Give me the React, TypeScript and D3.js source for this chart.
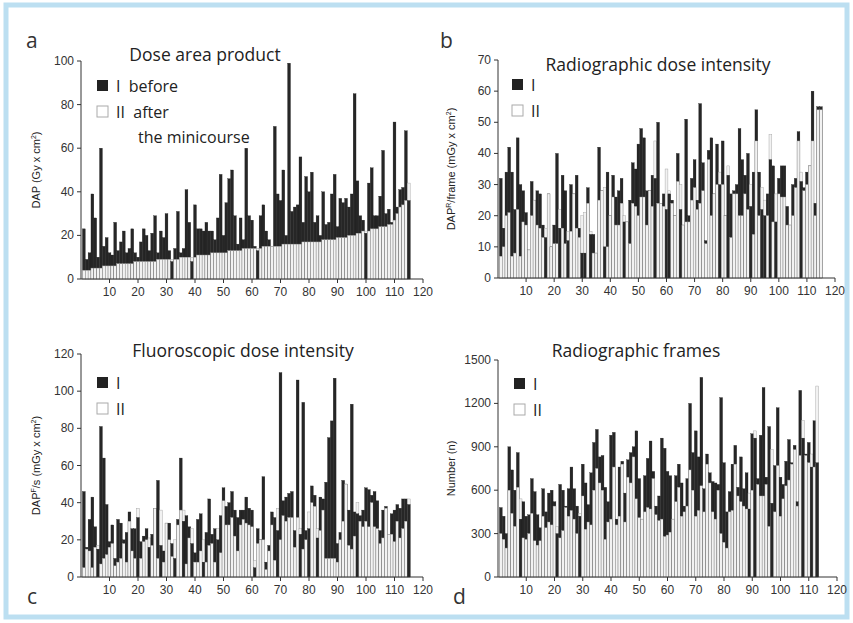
import React from "react";
import * as d3 from "d3";

const aBlack = [23,9,12,39,28,10,60,15,19,12,11,26,13,17,22,12,14,23,12,10,17,23,20,13,21,29,12,22,19,30,13,8,14,31,12,14,41,26,8,34,23,23,22,26,22,22,18,28,48,20,35,46,50,29,16,28,18,60,29,27,15,13,29,34,22,18,15,70,39,36,50,20,99,31,33,34,56,26,47,40,49,26,29,20,40,25,26,39,48,24,37,35,37,33,39,85,45,29,27,21,44,51,29,29,38,59,30,32,26,72,33,41,42,68,36,81];
const aWhite = [4,4,4,5,5,5,5,6,6,6,6,6,7,7,7,7,7,7,8,8,8,8,8,8,8,8,9,9,9,9,9,9,9,9,10,10,10,10,10,10,11,11,11,11,11,12,12,12,12,12,12,13,13,13,13,13,14,14,14,14,14,14,14,15,15,15,15,15,15,15,16,16,16,16,16,16,16,17,17,17,17,17,17,17,18,18,18,18,18,19,19,19,19,20,20,20,21,21,22,22,22,23,23,23,24,24,24,25,25,27,30,33,34,36,44];
const bBlack = [32,16,34,42,34,22,45,30,28,21,9,31,25,28,27,17,13,27,10,17,40,16,33,28,12,30,27,33,16,8,8,29,14,14,8,42,28,10,34,20,33,26,28,32,18,18,25,37,35,43,48,45,28,28,33,32,50,24,27,22,27,25,20,40,22,17,51,20,32,38,25,56,37,12,41,45,27,43,30,44,20,33,27,28,30,48,38,33,40,23,34,54,34,22,20,27,38,36,18,32,36,36,23,17,30,32,47,31,29,34,36,60,24,55,55];
const bWhite = [7,10,20,21,7,8,22,7,18,17,9,20,25,17,16,13,16,27,10,11,11,22,16,11,15,15,27,16,13,20,21,24,15,8,8,25,28,29,10,20,26,17,17,24,20,18,11,24,23,20,26,26,17,28,23,44,24,24,23,35,28,24,20,31,30,17,18,18,25,29,22,24,28,11,38,20,27,30,34,30,20,36,13,27,27,20,20,27,22,30,14,44,20,29,25,20,46,18,27,27,26,26,17,17,20,29,44,34,28,30,36,44,20,54,54];
const cBlack = [46,16,31,43,27,15,81,64,39,19,28,10,31,29,20,24,35,26,26,32,19,22,26,16,23,37,52,17,14,29,29,18,10,31,64,30,33,27,18,13,31,34,8,24,42,23,26,20,33,48,38,40,46,36,32,36,36,43,37,36,5,26,20,54,8,17,35,32,25,110,41,43,45,46,25,106,23,94,25,26,49,44,21,43,42,51,75,84,107,18,24,52,50,36,93,35,34,33,36,48,47,44,46,41,25,36,38,23,34,36,39,37,42,42,39];
const cWhite = [5,15,14,5,16,17,7,10,12,16,18,6,8,10,18,8,30,14,10,37,10,19,20,21,17,37,10,36,8,29,20,11,20,28,36,36,7,21,26,8,8,14,20,8,17,18,8,26,13,41,28,28,32,22,14,28,31,29,28,27,9,18,20,20,4,14,28,9,37,20,33,30,32,32,16,32,26,15,20,35,40,38,26,25,36,10,10,10,10,8,20,30,50,17,15,22,40,30,27,30,27,40,27,26,18,21,37,23,23,19,30,21,26,30,42];
const dBlack = [480,420,300,900,740,600,860,400,520,420,430,680,590,430,340,610,450,580,600,520,300,640,600,490,610,760,610,490,420,780,650,500,720,930,1020,830,840,620,520,980,1000,400,760,800,580,810,860,900,1010,680,400,700,820,940,730,490,560,960,890,730,700,400,700,780,650,490,680,1200,860,1010,830,1380,610,850,720,660,650,640,1240,790,450,590,780,910,620,830,610,720,470,990,960,680,980,1310,690,1040,510,770,1170,690,640,800,950,790,910,520,1290,960,850,930,760,1080,790];
const dWhite = [300,260,200,600,440,350,620,540,270,260,300,440,250,220,250,420,340,380,360,490,350,270,320,480,420,460,400,300,440,560,330,380,360,600,750,650,600,260,380,400,760,360,420,780,380,690,650,830,540,410,400,450,480,470,680,430,390,400,280,290,310,400,520,620,420,450,490,740,600,420,460,630,450,780,650,450,400,600,300,240,200,450,460,780,560,520,490,470,580,600,1010,640,560,560,640,350,880,450,770,420,540,630,670,780,880,490,840,1080,840,790,850,760,1320,570];

const xTicks = [10,20,30,40,50,60,70,80,90,100,110,120];
const font = "Liberation Sans, Arial, sans-serif";
const hfont = "Open Sans, sans-serif";

type P = { x0:number; x1:number; y0:number; y1:number; max:number; step:number; black:number[]; white:number[];
  title:string; tx:number; ty:number; ylab:React.ReactNode; lx:number; legend:string[]; lgx:number; lgy:number; extra?:string };

function Panel(p: P) {
  const x = d3.scaleLinear().domain([0,120]).range([p.x0,p.x1]);
  const y = d3.scaleLinear().domain([0,p.max]).range([p.y0,p.y1]);
  const w = x(1)-x(0);
  const yt = d3.range(0,p.max+1e-9,p.step);
  const n = Math.min(p.black.length,p.white.length,115);
  const bars:React.ReactNode[] = [];
  for (let i=0;i<n;i++){
    const b=p.black[i], wv=p.white[i];
    const bx = x(i+1)-w/2;
    const blk = <rect key={"b"+i} x={bx} width={w} y={y(b)} height={y(0)-y(b)} fill="#262626" stroke="#1a1a1a" strokeWidth={0.3}/>;
    const wht = <rect key={"w"+i} x={bx} width={w} y={y(wv)} height={y(0)-y(wv)} fill="#f2f2f2" stroke="#9a9a9a" strokeWidth={0.4}/>;
    if (b>=wv) bars.push(blk,wht); else bars.push(wht,blk);
  }
  return <g fontFamily={font}>
    {bars}
    <line x1={p.x0} x2={p.x1} y1={p.y0} y2={p.y0} stroke="#333" strokeWidth={1}/>
    <line x1={p.x0} x2={p.x0} y1={p.y0} y2={p.y1} stroke="#333" strokeWidth={1}/>
    {xTicks.map(t=><g key={t}><line x1={x(t)} x2={x(t)} y1={p.y0} y2={p.y0+4} stroke="#333"/>
      <text x={x(t)} y={p.y0+17} fontSize={12} textAnchor="middle" fill="#333">{t}</text></g>)}
    {yt.map(t=><g key={t}><line x1={p.x0-4} x2={p.x0} y1={y(t)} y2={y(t)} stroke="#333"/>
      <text x={p.x0-7} y={y(t)+4} fontSize={12} textAnchor="end" fill="#333">{t}</text></g>)}
    <text x={p.tx} y={p.ty} fontSize={17.5} fontFamily={hfont} textAnchor="middle" fill="#222">{p.title}</text>
    <text transform={`translate(${p.lx},${(p.y0+p.y1)/2}) rotate(-90)`} fontSize={11} textAnchor="middle" fill="#222">{p.ylab}</text>
    <rect x={p.lgx} y={p.lgy} width={11} height={11} fill="#222"/>
    <rect x={p.lgx} y={p.lgy+26} width={11} height={11} fill="#fff" stroke="#aaa"/>
    <text x={p.lgx+19} y={p.lgy+12} fontSize={16} fontFamily={hfont} fill="#222" xmlSpace="preserve">{p.legend[0]}</text>
    <text x={p.lgx+19} y={p.lgy+38} fontSize={16} fontFamily={hfont} fill="#222" xmlSpace="preserve">{p.legend[1]}</text>
    {p.extra && <text x={p.lgx+41} y={p.lgy+63} fontSize={16} fontFamily={hfont} fill="#222">{p.extra}</text>}
  </g>;
}

export default function App(){
  return <svg width={853} height={623} style={{position:"absolute",left:0,top:0,background:"#fff"}}>
    <rect x={6} y={5} width={841} height={612} fill="#fff" stroke="#bcdff1" strokeWidth={5}/>
    <Panel x0={81} x1={423} y0={279} y1={61} max={100} step={20} black={aBlack} white={aWhite}
      title="Dose area product" tx={205} ty={61} ylab={<>DAP (Gy x cm<tspan dy={-4} fontSize={7}>2</tspan><tspan dy={4}>)</tspan></>} lx={40}
      legend={["I  before","II  after"]} lgx={97} lgy={80} extra="the minicourse"/>
    <Panel x0={498} x1={835} y0={278} y1={60} max={70} step={10} black={bBlack} white={bWhite}
      title="Radiographic dose intensity" tx={658} ty={71} ylab={<>DAP<tspan dy={-4} fontSize={7}>R</tspan><tspan dy={4}>/frame (mGy x cm</tspan><tspan dy={-4} fontSize={7}>2</tspan><tspan dy={4}>)</tspan></>} lx={455}
      legend={["I","II"]} lgx={512} lgy={79}/>
    <Panel x0={81} x1={423} y0={577} y1={354} max={120} step={20} black={cBlack} white={cWhite}
      title="Fluoroscopic dose intensity" tx={243} ty={357} ylab={<>DAP<tspan dy={-4} fontSize={7}>F</tspan><tspan dy={4}>/s (mGy x cm</tspan><tspan dy={-4} fontSize={7}>2</tspan><tspan dy={4}>)</tspan></>} lx={40}
      legend={["I","II"]} lgx={97} lgy={377}/>
    <Panel x0={498} x1={837} y0={577} y1={360} max={1500} step={300} black={dBlack} white={dWhite}
      title="Radiographic frames" tx={636} ty={357} ylab="Number (n)" lx={455}
      legend={["I","II"]} lgx={514} lgy={378}/>
    <g fontFamily={hfont} fontSize={21} fill="#333">
      <text x={26} y={48}>a</text><text x={440} y={48}>b</text>
      <text x={27} y={604}>c</text><text x={453} y={604}>d</text>
    </g>
  </svg>;
}
